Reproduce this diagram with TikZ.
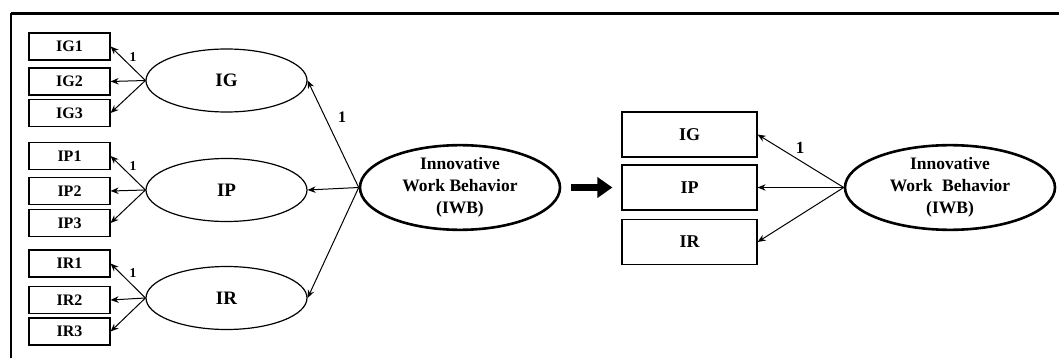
\documentclass[tikz,border=0pt]{standalone}
\usepackage{fontspec}
\setmainfont{Liberation Serif}
\usetikzlibrary{shapes.geometric,arrows.meta}

\begin{document}
\begin{tikzpicture}[x=1pt,y=-1pt,
  ind/.style={draw, line width=1.2pt, minimum width=81pt, minimum height=27pt,
    inner sep=0pt, font=\bfseries\fontsize{16}{18}\selectfont},
  dim/.style={draw, line width=1.2pt, minimum width=135pt, minimum height=45pt,
    inner sep=0pt, font=\bfseries\fontsize{18}{20}\selectfont},
  lat/.style={draw, ellipse, line width=1.2pt, minimum width=161pt, minimum height=63pt,
    inner sep=0pt, font=\bfseries\fontsize{19}{21}\selectfont},
  iwb/.style={draw, ellipse, line width=2.6pt, inner sep=0pt, align=center,
    font=\bfseries\fontsize{17.5}{22}\selectfont},
  load/.style={-{Stealth[length=8pt,width=6.5pt]}, line width=1pt},
  coef/.style={inner sep=0pt, font=\bfseries\fontsize{13.5}{15}\selectfont},
  coefbig/.style={inner sep=0pt, font=\bfseries\fontsize{16}{18}\selectfont},
  trans/.style={-{Triangle[length=15pt,width=20pt]}, line width=6.5pt}
]
\useasboundingbox (0,0) rectangle (1059,358);

% frame (top and left edges)
\draw[line width=2.7pt] (11,13.5) -- (1059,13.5);
\draw[line width=2.2pt] (11,13.5) -- (11,358);

% first-order measurement model: indicators
\node[ind] (ig1) at (69.5,46.5) {IG1};
\node[ind] (ig2) at (69.5,81.5) {IG2};
\node[ind] (ig3) at (69.5,113) {IG3};
\node[ind] (ip1) at (69.5,156) {IP1};
\node[ind] (ip2) at (69.5,191) {IP2};
\node[ind] (ip3) at (69.5,223) {IP3};
\node[ind] (ir1) at (69.5,263.5) {IR1};
\node[ind] (ir2) at (69.5,300) {IR2};
\node[ind] (ir3) at (69.5,331.5) {IR3};

% latent dimensions
\node[lat] (IG) at (226.5,80.5) {IG};
\node[lat] (IP) at (226.5,190) {IP};
\node[lat] (IR) at (226.5,298) {IR};

% second-order construct
\node[iwb, minimum width=200pt, minimum height=81pt] (IWB) at (460,187.5)
  {Innovative\\Work Behavior\\(IWB)};

% loadings of indicators
\draw[load] (IG.west) -- (ig1.east);
\draw[load] (IG.west) -- (ig2.east);
\draw[load] (IG.west) -- (ig3.east);
\draw[load] (IP.west) -- (ip1.east);
\draw[load] (IP.west) -- (ip2.east);
\draw[load] (IP.west) -- (ip3.east);
\draw[load] (IR.west) -- (ir1.east);
\draw[load] (IR.west) -- (ir2.east);
\draw[load] (IR.west) -- (ir3.east);
\node[coef] (c1) at (133,57) {1};
\node[coef] (c2) at (133,166) {1};
\node[coef] (c3) at (133,273) {1};

% loadings of dimensions
\draw[load] (IWB.west) -- (IG.east);
\draw[load] (IWB.west) -- (IP.east);
\draw[load] (IWB.west) -- (IR.east);
\node[coefbig] (c4) at (342,117) {1};

% reduced model
\node[dim] (dG) at (689.5,134.5) {IG};
\node[dim] (dP) at (689.5,187.5) {IP};
\node[dim] (dR) at (689.5,242) {IR};
\node[iwb, minimum width=210pt, minimum height=81pt] (IWB2) at (950,187.5)
  {Innovative\\Work\hspace{0.55em}Behavior\\(IWB)};
\draw[load] (IWB2.west) -- (dG.east);
\draw[load] (IWB2.west) -- (dP.east);
\draw[load] (IWB2.west) -- (dR.east);
\node[coefbig, font=\bfseries\fontsize{17}{19}\selectfont] (c5) at (800,148) {1};

% transition arrow
\coordinate (tfrom) at ([xshift=10pt]IWB.east);
\coordinate (tto) at ([xshift=-9pt]dP.west);
\draw[trans] (tfrom) -- (tto);
\end{tikzpicture}
\end{document}
